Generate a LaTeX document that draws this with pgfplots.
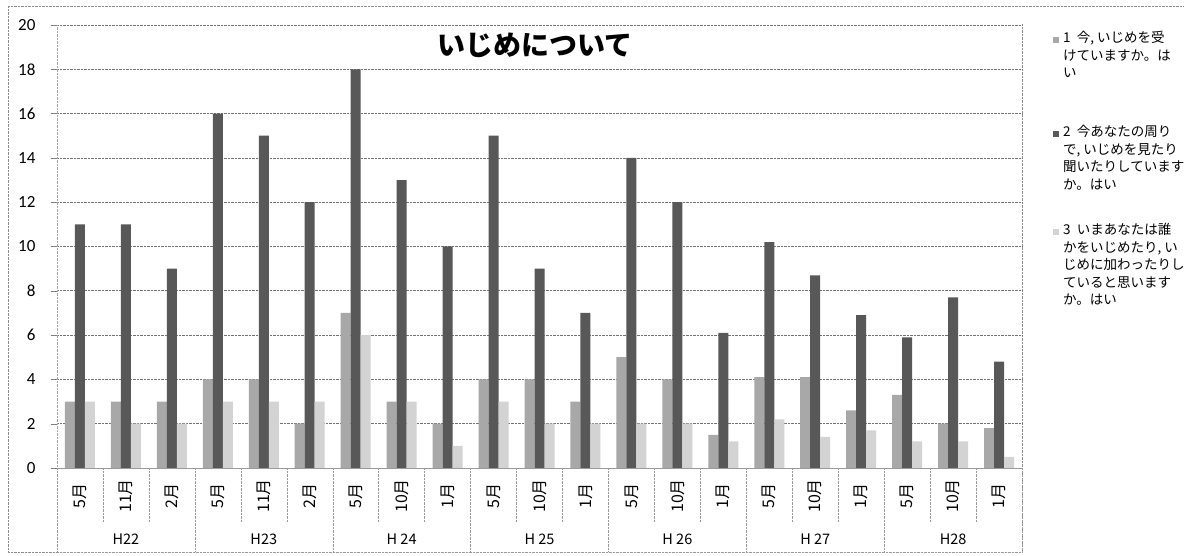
\documentclass[border=0pt]{standalone}
\usepackage{fontspec}
\setmainfont{Carlito}
\newfontfamily\jp{Noto Sans CJK JP}
\usepackage{pgfplots}
\pgfplotsset{compat=1.18}
\definecolor{sA}{HTML}{A8A8A8}
\definecolor{sB}{HTML}{585858}
\definecolor{sC}{HTML}{D3D3D3}
\begin{document}
\begin{tikzpicture}
\useasboundingbox (0pt,0pt) rectangle (1184pt,556pt);
% outer chart frame
\draw[black!45, densely dotted] (8pt,550pt) -- (1184pt,550pt);
\draw[black!45, densely dotted] (8pt,550pt) -- (8pt,4pt) -- (1022pt,4pt);
\draw[black!45, densely dotted] (1022pt,532pt) -- (1022pt,4pt);
\begin{axis}[
  at={(57pt,88pt)}, anchor=south west,
  scale only axis, width=965pt, height=443pt,
  xmin=-0.5, xmax=20.5, ymin=0, ymax=20,
  ytick={0,2,...,20},
  xtick={0,...,20},
  xticklabels={5月,11月,2月,5月,11月,2月,5月,10月,1月,5月,10月,1月,5月,10月,1月,5月,10月,1月,5月,10月,1月},
  xticklabel style={font=\jp\fontsize{16}{16}\selectfont, rotate=90, anchor=center},
  xticklabel shift=22pt,
  major x tick style={draw=none},
  ybar=0pt, bar width=10pt,
  ymajorgrids, grid style={black!55, densely dotted, line width=0.6pt},
  axis x line*=bottom, axis y line*=left,
  x axis line style={black!40, -},
  y axis line style={black!35, densely dotted, -},
  tick align=outside, major tick length=6pt,
  major y tick style={black!50},
  yticklabel style={font=\fontsize{17}{17}\selectfont, xshift=-12pt},
  /pgf/number format/assume math mode=true,
  clip=false,
  title={いじめについて},
  title style={at={(axis description cs:0.495,0.94)}, anchor=center, font=\jp\bfseries\fontsize{28}{30}\selectfont},
]
\addplot[fill=sA, draw=none] coordinates {(0,3)(1,3)(2,3)(3,4)(4,4)(5,2)(6,7)(7,3)(8,2)(9,4)(10,4)(11,3)(12,5)(13,4)(14,1.5)(15,4.1)(16,4.1)(17,2.6)(18,3.3)(19,2.0)(20,1.8)};
\addplot[fill=sB, draw=none] coordinates {(0,11)(1,11)(2,9)(3,16)(4,15)(5,12)(6,18)(7,13)(8,10)(9,15)(10,9)(11,7)(12,14)(13,12)(14,6.1)(15,10.2)(16,8.7)(17,6.9)(18,5.9)(19,7.7)(20,4.8)};
\addplot[fill=sC, draw=none] coordinates {(0,3)(1,2)(2,2)(3,3)(4,3)(5,3)(6,6)(7,3)(8,1)(9,3)(10,2)(11,2)(12,2)(13,2)(14,1.2)(15,2.2)(16,1.4)(17,1.7)(18,1.2)(19,1.2)(20,0.5)};
\pgfplotsinvokeforeach{1,2,4,5,7,8,10,11,13,14,16,17,19,20}{
  \draw[black!40, densely dotted] (axis cs:#1-0.5,0) -- ([yshift=-54pt]axis cs:#1-0.5,0);
}
\pgfplotsinvokeforeach{0,3,6,9,12,15,18,21}{
  \draw[black!40, densely dotted] (axis cs:#1-0.5,0) -- ([yshift=-84pt]axis cs:#1-0.5,0);
}
\draw[black!40, densely dotted] ([yshift=-84pt]axis cs:-0.5,0) -- ([yshift=-84pt]axis cs:20.5,0);
\node[font=\jp\fontsize{14.5}{14.5}\selectfont] at ([yshift=-71pt]axis cs:1,0) {H22};
\node[font=\jp\fontsize{14.5}{14.5}\selectfont] at ([yshift=-71pt]axis cs:4,0) {H23};
\node[font=\jp\fontsize{14.5}{14.5}\selectfont] at ([yshift=-71pt]axis cs:7,0) {H 24};
\node[font=\jp\fontsize{14.5}{14.5}\selectfont] at ([yshift=-71pt]axis cs:10,0) {H 25};
\node[font=\jp\fontsize{14.5}{14.5}\selectfont] at ([yshift=-71pt]axis cs:13,0) {H 26};
\node[font=\jp\fontsize{14.5}{14.5}\selectfont] at ([yshift=-71pt]axis cs:16,0) {H 27};
\node[font=\jp\fontsize{14.5}{14.5}\selectfont] at ([yshift=-71pt]axis cs:19,0) {H28};
\end{axis}
% legend
\fill[sA] (1053pt,513pt) rectangle (1059pt,519pt);
\fill[sB] (1053pt,419pt) rectangle (1059pt,425pt);
\fill[sC] (1053pt,321pt) rectangle (1059pt,327pt);
\node[anchor=north west, align=left, inner sep=0pt, font=\jp\fontsize{13.5}{17.5}\selectfont] at (1063pt,525pt)
  {1\ \ 今, いじめを受\\けていますか。は\\い};
\node[anchor=north west, align=left, inner sep=0pt, font=\jp\fontsize{13.5}{17.5}\selectfont] at (1063pt,431pt)
  {2\ \ 今あなたの周り\\で, いじめを見たり\\聞いたりしています\\か。はい};
\node[anchor=north west, align=left, inner sep=0pt, font=\jp\fontsize{13.5}{17.5}\selectfont] at (1063pt,333pt)
  {3\ \ いまあなたは誰\\かをいじめたり, い\\じめに加わったりし\\ていると思います\\か。はい};
\end{tikzpicture}
\end{document}
